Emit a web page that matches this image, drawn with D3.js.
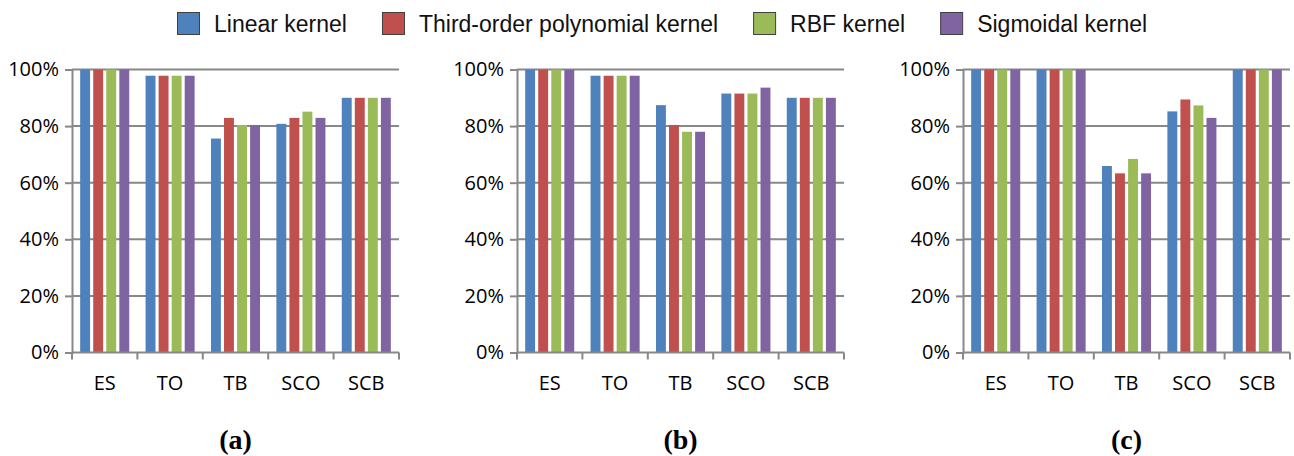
<!DOCTYPE html>
<html>
<head>
<meta charset="utf-8">
<script src="https://cdn.jsdelivr.net/npm/d3@7"></script>
<style>
	body { margin: 0; background: #fff; }
	svg { display: block; }
</style>
</head>
<body>
<svg id="chart" width="1294" height="456"></svg>
<script>
// Data (accuracy in %, one row per category,
// values in series order)
let categories = ["ES", "TO", "TB", "SCO", "SCB"]
let series = ["Linear kernel", "Third-order polynomial kernel", "RBF kernel", "Sigmoidal kernel"]
let colours = ["#4F81BD", "#C0504D", "#9BBB59", "#8064A2"]
let yTicks = [0, 20, 40, 60, 80, 100]
let panelLabels = ["a", "b", "c"]

let panelA = [
	[100, 100, 100, 100],
	[97.8, 97.8, 97.8, 97.8],
	[75.6, 82.9, 80.4, 80.4],
	[80.8, 82.9, 85.1, 82.9],
	[90, 90, 90, 90]
]
let panelB = [
	[100, 100, 100, 100],
	[97.8, 97.8, 97.8, 97.8],
	[87.4, 80.4, 78, 78],
	[91.5, 91.5, 91.5, 93.6],
	[90, 90, 90, 90]
]
let panelC = [
	[100, 100, 100, 100],
	[100, 100, 100, 100],
	[65.9, 63.3, 68.4, 63.3],
	[85.2, 89.4, 87.3, 82.9],
	[100, 100, 100, 100]
]
let panels = [panelA, panelB, panelC]

let svg = d3.select("#chart")
let colour = d3.scaleOrdinal().domain(series).range(colours)
let gridColour = "#888888"

let plotWidth = 327
let plotTop = 69.5
let plotBottom = 352.5
let origins = [72, 517, 963]

let y = d3.scaleLinear().domain([0, 100]).range([plotBottom, plotTop])

function drawPanel(g, rows, label) {
	let x = d3.scaleBand()
		.domain(categories)
		.range([0, plotWidth])
		.paddingInner(0.25)
		.paddingOuter(0.125)
	let x1 = d3.scaleBand()
		.domain(series)
		.range([0, x.bandwidth()])
		.paddingInner(0.24)

	// Horizontal gridlines
	g.selectAll("line.grid")
		.data(yTicks.filter(t => t > 0))
		.join("line")
		.attr("class", "grid")
		.attr("x1", 0)
		.attr("x2", plotWidth)
		.attr("y1", d => y(d))
		.attr("y2", d => y(d))
		.attr("stroke", gridColour)
		.attr("stroke-width", 2)

	// Bars
	g.selectAll("g.group")
		.data(rows)
		.join("g")
		.attr("class", "group")
		.attr("transform", (d, i) => `translate(${x(categories[i])}, 0)`)
		.selectAll("rect")
		.data(d => d.map((v, j) => ({ key: series[j], value: v })))
		.join("rect")
		.attr("x", d => x1(d.key))
		.attr("width", x1.bandwidth())
		.attr("y", d => y(d.value))
		.attr("height", d => y(0) - y(d.value))
		.attr("fill", d => colour(d.key))

	// Y axis
	let yAxis = d3.axisLeft(y)
		.tickValues(yTicks)
		.tickSize(7)
		.tickPadding(6)
		.tickFormat(d => `${d}%`)
	g.append("g")
		.call(yAxis)
		.call(a => a.select(".domain").attr("stroke", gridColour).attr("stroke-width", 2))
		.call(a => a.selectAll(".tick line").attr("stroke", gridColour).attr("stroke-width", 2))
		.call(a => a.selectAll("text")
			.style("font-family", "'Open Sans', sans-serif")
			.style("font-size", "20px")
			.attr("fill", "#000"))

	// X axis: ticks sit on category boundaries
	let bounds = d3.range(categories.length + 1).map(i => i * x.step())
	g.append("line")
		.attr("x1", 0)
		.attr("x2", plotWidth)
		.attr("y1", y(0))
		.attr("y2", y(0))
		.attr("stroke", gridColour)
		.attr("stroke-width", 2)
	g.selectAll("line.xtick")
		.data(bounds)
		.join("line")
		.attr("class", "xtick")
		.attr("x1", d => d)
		.attr("x2", d => d)
		.attr("y1", y(0))
		.attr("y2", y(0) + 7)
		.attr("stroke", gridColour)
		.attr("stroke-width", 2)
	g.selectAll("text.xlabel")
		.data(categories)
		.join("text")
		.attr("class", "xlabel")
		.attr("x", d => x(d) + x.bandwidth() / 2)
		.attr("y", 390)
		.attr("text-anchor", "middle")
		.style("font-family", "'Open Sans', sans-serif")
		.style("font-size", "20px")
		.text(d => d)

	// Panel caption "(a)" etc.
	g.append("text")
		.attr("x", plotWidth / 2)
		.attr("y", 449)
		.attr("text-anchor", "middle")
		.style("font-family", "'Liberation Serif', serif")
		.style("font-size", "28px")
		.style("font-weight", "bold")
		.text(`(${label})`)
}

panels.forEach((rows, i) => {
	let g = svg.append("g").attr("transform", `translate(${origins[i]}, 0)`)
	drawPanel(g, rows, panelLabels[i])
})

// Legend across the top
let legend = svg.append("g").attr("class", "legend")
let lx = 177
series.forEach(s => {
	legend.append("rect")
		.attr("x", lx + 0.5)
		.attr("y", 12.5)
		.attr("width", 22)
		.attr("height", 22)
		.attr("fill", colour(s))
		.attr("stroke", "#404040")
		.attr("stroke-width", 1)
	let t = legend.append("text")
		.attr("x", lx + 37)
		.attr("y", 32)
		.style("font-family", "'Liberation Sans', Arial, sans-serif")
		.style("font-size", "23px")
		.attr("fill", "#111")
		.text(s)
	lx += 37 + t.node().getComputedTextLength() + 35
})
</script>
</body>
</html>
